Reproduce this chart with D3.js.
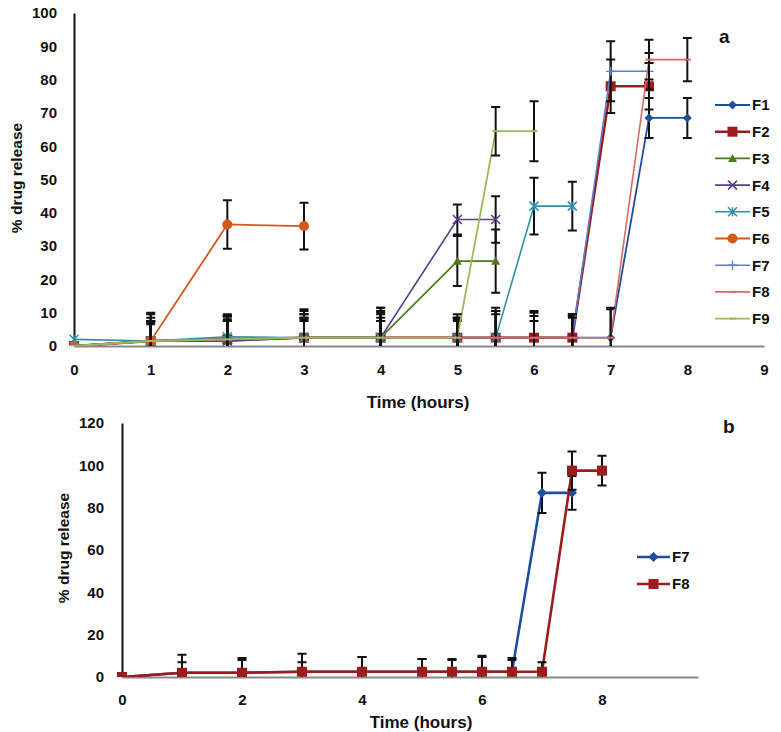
<!DOCTYPE html>
<html><head><meta charset="utf-8">
<script src="https://cdn.jsdelivr.net/npm/d3@7"></script>
<style>body{margin:0;background:#fff}text{font-family:"Liberation Sans",Arial,sans-serif}</style>
</head><body><svg id="c" width="781" height="732"></svg>
<script>
// ---------- Data: panel a ----------
const timesA = [0,1,2,3,4,5,5.5,6,6.5,7,7.5,8];
const namesA = ["F1","F2","F3","F4","F5","F6","F7","F8","F9"];
const valF1 = [0,1.5,2,2.5,2.5,2.5,2.5,2.5,2.5,2.5,68.5,68.5];
const valF2 = [0,1.5,2,2.5,2.5,2.5,2.5,2.5,2.5,78,78];
const valF3 = [0,1.5,1.5,2.5,2.5,25.5,25.5];
const valF4 = [0,1.5,1.5,2.5,2.5,38,38];
const valF5 = [2,1.5,2.8,2.5,2.5,2.5,2.5,42,42];
const valF6 = [0,1.5,36.5,36];
const valF7 = [0,1.5,2,2.5,2.5,2.5,2.5,2.5,2.5,82.5,82.5];
const valF8 = [0,1.5,2,2.5,2.5,2.5,2.5,2.5,2.5,2.5,86,86];
const valF9 = [0,1.5,2,2.5,2.5,2.5,64.5,64.5];
const errF1 = [0,6,7,6,8,6,7,7.5,6.5,8.5,6,6];
const errF2 = [0,8.5,7,8.5,9,5,8,8,7,8,7];
const errF3 = [0,6,6.5,7,7,7.5,9.5];
const errF4 = [0,5.5,6,6,7.5,4.5,7];
const errF5 = [0,7,6,5.5,6,6,8,8.5,7.3];
const errF6 = [0,8,7.3,7];
const errF7 = [0,6,7,5,5,6,8,6.5,7,9,5.5];
const errF8 = [0,6,7.5,8,5,5.5,9,5,6,9,6,6.5];
const errF9 = [0,5,5.5,7,9,7,7.3,9];
const ticksAx = [0,1,2,3,4,5,6,7,8,9];
const ticksAy = [0,10,20,30,40,50,60,70,80,90,100];

// ---------- Data: panel b ----------
const timesB = [0,1,2,3,4,5,5.5,6,6.5,7,7.5,8];
const namesB = ["F7","F8"];
const valB7 = [0,2,2,2.5,2.5,2.5,2.5,2.5,2.5,87,87];
const valB8 = [0,2,2,2.5,2.5,2.5,2.5,2.5,2.5,2.5,97.5,97.5];
const errB7 = [0,5,7,8.5,7,6,5.5,7.5,6.5,9.5,8];
const errB8 = [0,8.5,6,4.5,7,6,6,7,5.5,4.5,9,7];
const ticksBx = [0,2,4,6,8];
const ticksBy = [0,20,40,60,80,100,120];

const svg = d3.select("#c");
svg.append("rect").attr("width",781).attr("height",732).attr("fill","#fff");

function drawMarker(g, type, color, x, y, s) {
  const h = s/2;
  if (type==="diamond") g.append("path").attr("d",`M${x},${y-h}L${x+h},${y}L${x},${y+h}L${x-h},${y}Z`).attr("fill",color);
  else if (type==="square") g.append("rect").attr("x",x-h).attr("y",y-h).attr("width",s).attr("height",s).attr("fill",color);
  else if (type==="triangle") g.append("path").attr("d",`M${x},${y-h}L${x+h},${y+h*0.8}L${x-h},${y+h*0.8}Z`).attr("fill",color);
  else if (type==="circle") g.append("circle").attr("cx",x).attr("cy",y).attr("r",h).attr("fill",color);
  else if (type==="x") g.append("path").attr("d",`M${x-h},${y-h}L${x+h},${y+h}M${x-h},${y+h}L${x+h},${y-h}`).attr("stroke",color).attr("stroke-width",1.5).attr("fill","none");
  else if (type==="star") g.append("path").attr("d",`M${x-h},${y-h}L${x+h},${y+h}M${x-h},${y+h}L${x+h},${y-h}M${x},${y-h}L${x},${y+h}`).attr("stroke",color).attr("stroke-width",1.5).attr("fill","none");
  else if (type==="plus") g.append("path").attr("d",`M${x-h},${y}L${x+h},${y}M${x},${y-h}L${x},${y+h}`).attr("stroke",color).attr("stroke-width",1.3).attr("fill","none");
  else if (type==="dash") g.append("path").attr("d",`M${x-h},${y}L${x+h},${y}`).attr("stroke",color).attr("stroke-width",2).attr("fill","none");
}

function panel(cfg) {
  const {x, y, series, times, xt, yt, clipId} = cfg;
  const g = svg.append("g");
  g.append("defs").append("clipPath").attr("id",clipId).append("rect")
    .attr("x",x.range()[0]-10).attr("y",y.range()[1]-10)
    .attr("width",x.range()[1]-x.range()[0]+20).attr("height",y.range()[0]-y.range()[1]+10);
  const ya = g.append("g").attr("transform",`translate(${x.range()[0]},0)`)
    .call(d3.axisLeft(y).tickValues(yt).tickSize(0).tickPadding(cfg.ypad).tickFormat(d3.format("d")));
  ya.select(".domain").attr("stroke","#111").attr("stroke-width",2);
  ya.selectAll("text").attr("font-size",15).attr("font-weight","bold").attr("fill","#111");
  const xa = g.append("g").attr("transform",`translate(0,${y.range()[0]})`)
    .call(d3.axisBottom(x).tickValues(xt).tickSize(0).tickPadding(cfg.xpad).tickFormat(d3.format("d")));
  xa.select(".domain").attr("stroke","#888").attr("stroke-width",2);
  xa.selectAll("text").attr("font-size",15).attr("font-weight","bold").attr("fill","#111");

  const pg = g.append("g").attr("clip-path",`url(#${clipId})`);
  series.forEach(s => {
    const pts = s.values.map((v,i)=>({t:times[i],v,e:s.err[i]}));
    pg.append("path").datum(pts)
      .attr("d",d3.line().x(d=>x(d.t)).y(d=>y(d.v)))
      .attr("fill","none").attr("stroke",s.color).attr("stroke-width",s.lw);
    pts.forEach(d=>{
      if (d.e>0) {
        const cx=x(d.t), top=y(d.v+d.e), bot=y(Math.max(d.v-d.e,-5));
        pg.append("path").attr("d",`M${cx},${top}L${cx},${bot}M${cx-4.5},${top}L${cx+4.5},${top}M${cx-4.5},${bot}L${cx+4.5},${bot}`)
          .attr("stroke","#111").attr("stroke-width",2).attr("fill","none");
      }
    });
    pts.forEach(d=>drawMarker(pg,s.marker,s.color,x(d.t),y(d.v),s.ms));
  });
  series.forEach((s,i)=>{
    const ly = cfg.legY + i*cfg.legDy;
    g.append("line").attr("x1",cfg.legX).attr("x2",cfg.legX+cfg.legW).attr("y1",ly).attr("y2",ly)
      .attr("stroke",s.color).attr("stroke-width",s.lw);
    drawMarker(g,s.marker,s.color,cfg.legX+cfg.legW/2,ly,s.ms);
    g.append("text").attr("x",cfg.legX+cfg.legW+2).attr("y",ly).attr("dy","0.36em")
      .attr("font-size",15).attr("font-weight","bold").attr("fill","#111").text(s.name);
  });
  g.append("text").attr("x",cfg.xtX).attr("y",cfg.xtY).attr("text-anchor","middle")
    .attr("font-size",17).attr("font-weight","bold").attr("fill","#111").text("Time (hours)");
  g.append("text").attr("transform",`translate(${cfg.ytX},${cfg.ytY}) rotate(-90)`).attr("text-anchor","middle")
    .attr("font-size",15.5).attr("font-weight","bold").attr("fill","#111").text("% drug release");
  g.append("text").attr("x",cfg.lblX).attr("y",cfg.lblY).attr("font-family","Liberation Serif, Times New Roman, serif")
    .attr("font-size",19).attr("font-weight","bold").attr("fill","#111").text(cfg.lbl);
}

const colorsA = ["#1F4E9A","#9B1C1C","#4E7A1E","#5B3C88","#2F8FA6","#D2591A","#5B80C8","#D46A6A","#9BBB59"];
const markersA = ["diamond","square","triangle","x","star","circle","plus","dash","dash"];
const valsA = [valF1,valF2,valF3,valF4,valF5,valF6,valF7,valF8,valF9];
const errsA = [errF1,errF2,errF3,errF4,errF5,errF6,errF7,errF8,errF9];
const lwA = [1.8,2.6,1.8,1.6,1.6,1.8,1.6,1.6,1.8];
const msA = [9,10,9,9,9,10,9,7,7];

panel({
  x: d3.scaleLinear([0,9],[74,764]), y: d3.scaleLinear([0,100],[346,13]),
  times: timesA, xt: ticksAx, yt: ticksAy, clipId:"clipA", ypad:17, xpad:18,
  series: namesA.map((n,i)=>({name:n,values:valsA[i],err:errsA[i],color:colorsA[i],marker:markersA[i],lw:lwA[i],ms:msA[i]})),
  legX:715, legY:105, legDy:26.7, legW:35,
  xtX:418, xtY:408, ytX:22, ytY:178, lblX:719, lblY:43, lbl:"a"
});

const colorsB = ["#1F4EA0","#9B1C1C"];
const markersB = ["diamond","square"];
panel({
  x: d3.scaleLinear([0,9.6],[122,698]), y: d3.scaleLinear([0,120],[677,423]),
  times: timesB, xt: ticksBx, yt: ticksBy, clipId:"clipB", ypad:18, xpad:17,
  series: namesB.map((n,i)=>({name:n,values:[valB7,valB8][i],err:[errB7,errB8][i],color:colorsB[i],marker:markersB[i],lw:2.6,ms:10})),
  legX:637, legY:557, legDy:27, legW:33,
  xtX:421, xtY:728, ytX:69, ytY:548, lblX:723, lblY:433, lbl:"b"
});
</script></body></html>
